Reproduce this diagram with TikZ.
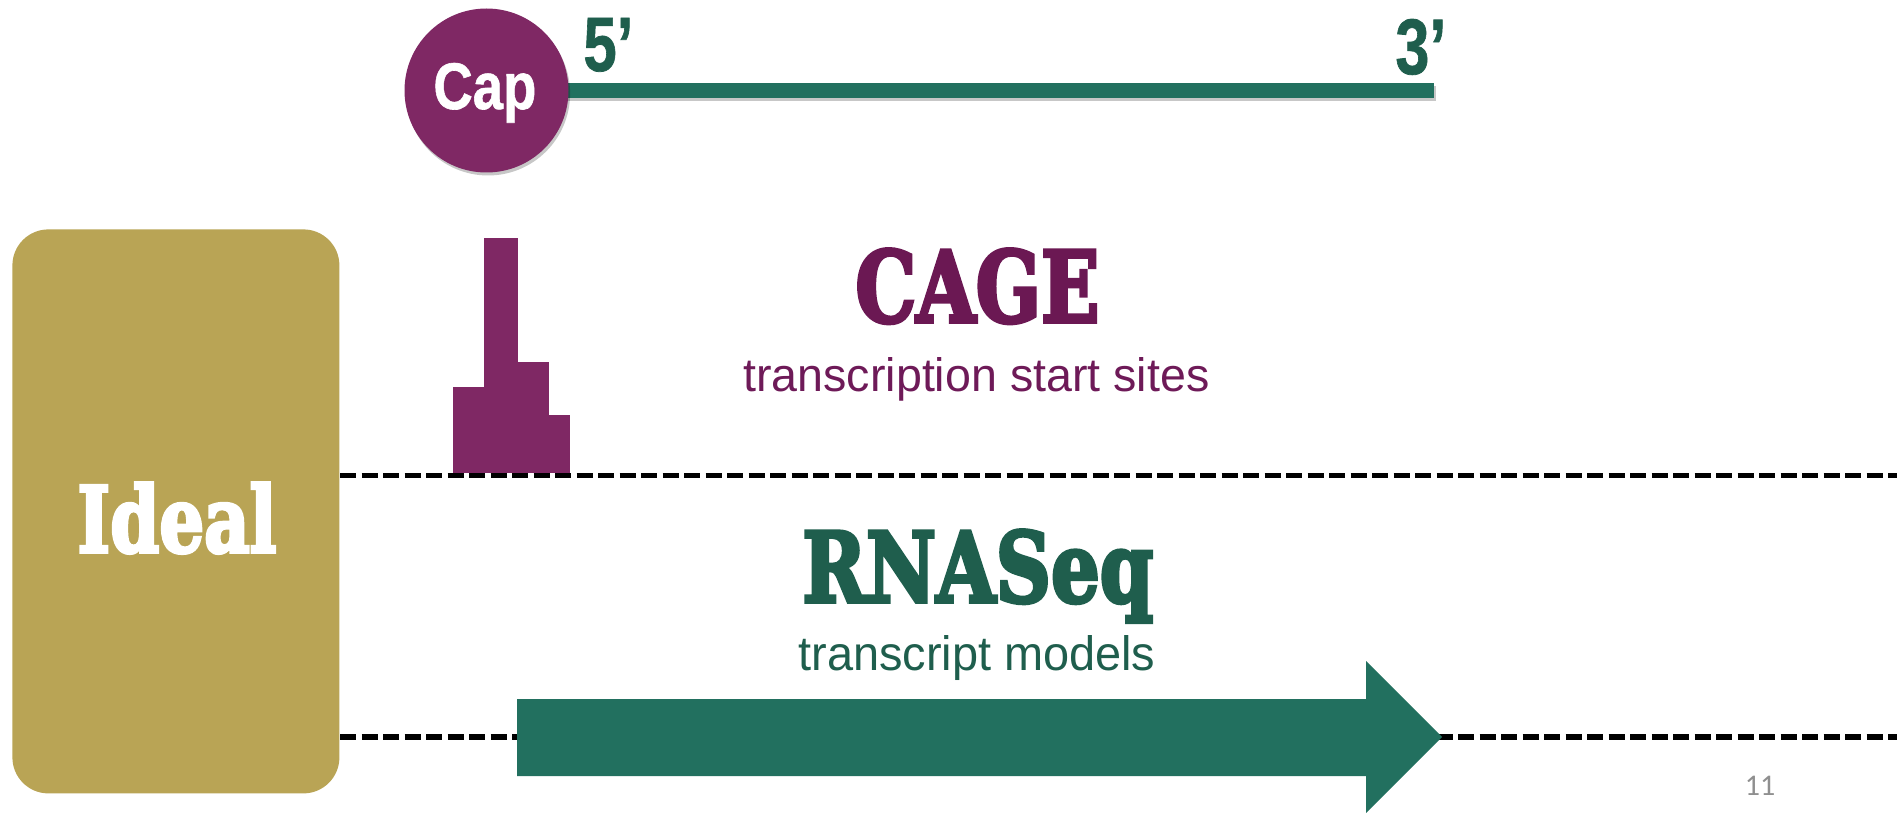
\documentclass[tikz,border=0pt]{standalone}
\usepackage{fontspec}
\usepackage{graphicx}
\setmainfont{Liberation Sans}
\newfontfamily\heavyserif{DejaVu Serif}[FakeBold=4]
\newfontfamily\condsans{Liberation Sans}[FakeBold=1]
\newfontfamily\numfont{Carlito}
\usetikzlibrary{shadows}
\definecolor{capPurple}{HTML}{7F2864}
\definecolor{cagePurple}{HTML}{6B1853}
\definecolor{tssPurple}{HTML}{6E1A58}
\definecolor{goldC}{HTML}{B9A455}
\definecolor{greenC}{HTML}{22705F}
\definecolor{darkGreen}{HTML}{1F5E4D}
\definecolor{pageGray}{HTML}{8F8F8F}
\begin{document}
\begin{tikzpicture}[x=0.5pt,y=-0.5pt,
  dashline/.style={line width=2.6pt, dash pattern=on 8pt off 2.75pt, black},
  bar/.style={fill=capPurple, draw=none},
  txt/.style={inner sep=0pt, anchor=base west},
  softshadow/.style={drop shadow={shadow xshift=0.8pt, shadow yshift=-1.5pt, opacity=0.22, fill=black}}]
\useasboundingbox (0,0) rectangle (1897,813);

% top strand
\fill[greenC, softshadow] (530,83) rectangle (1434,98);
\node[circle, fill=capPurple, minimum size=82pt, inner sep=0pt, softshadow] (cap) at (486.5,90.5) {};
\node[txt, text=white] (captext) at (433,109) {\resizebox{51.5pt}{23pt}{\condsans\bfseries Cap}};
\node[txt, text=darkGreen] (five) at (583,71) {\resizebox{25pt}{26.5pt}{\condsans\bfseries 5’}};
\node[txt, text=darkGreen] (three) at (1395,74) {\resizebox{25.5pt}{27.5pt}{\condsans\bfseries 3’}};

% Ideal box
\node[fill=goldC, rounded corners=18pt, minimum width=163.5pt, minimum height=282pt, inner sep=0pt, anchor=north west] (idealbox) at (12,229) {};
\node[txt, text=white] (ideal) at (77,552) {\resizebox{99.5pt}{34.5pt}{\heavyserif\bfseries Ideal}};

% CAGE histogram
\fill[bar] (453,387) rectangle (484,473);
\fill[bar] (484,238) rectangle (518,473);
\fill[bar] (518,362) rectangle (549,473);
\fill[bar] (549,415) rectangle (570,473);

% dashed lines
\coordinate (l1s) at (340,475.5);
\coordinate (l1e) at (1897,475.5);
\coordinate (l2s) at (340,737);
\coordinate (l2e) at (1897,737);
\draw[dashline] (l1s) -- (l1e);
\draw[dashline] (l2s) -- (l2e);

% CAGE texts
\node[txt, text=cagePurple] (cage) at (855,322) {\resizebox{122pt}{36.5pt}{\heavyserif\bfseries CAGE}};
\node[txt, text=tssPurple] (tss) at (743,391) {\resizebox{233pt}{17pt}{transcription start sites}};

% RNASeq texts
\node[txt, text=darkGreen] (rnaseq) at (802,602) {\resizebox{175.5pt}{36pt}{\heavyserif\bfseries RNASeq}};
\node[txt, text=darkGreen] (tm) at (798,670) {\resizebox{178.5pt}{17.5pt}{transcript models}};

% transcript arrow
\fill[greenC] (517,699) -- (1366,699) -- (1366,661) -- (1442,737) -- (1366,813) -- (1366,776) -- (517,776) -- cycle;

% page number
\node[inner sep=0pt, anchor=base, text=pageGray] (pagenum) at (1760,795) {\numfont\fontsize{15pt}{18pt}\selectfont 11};
\end{tikzpicture}
\end{document}
